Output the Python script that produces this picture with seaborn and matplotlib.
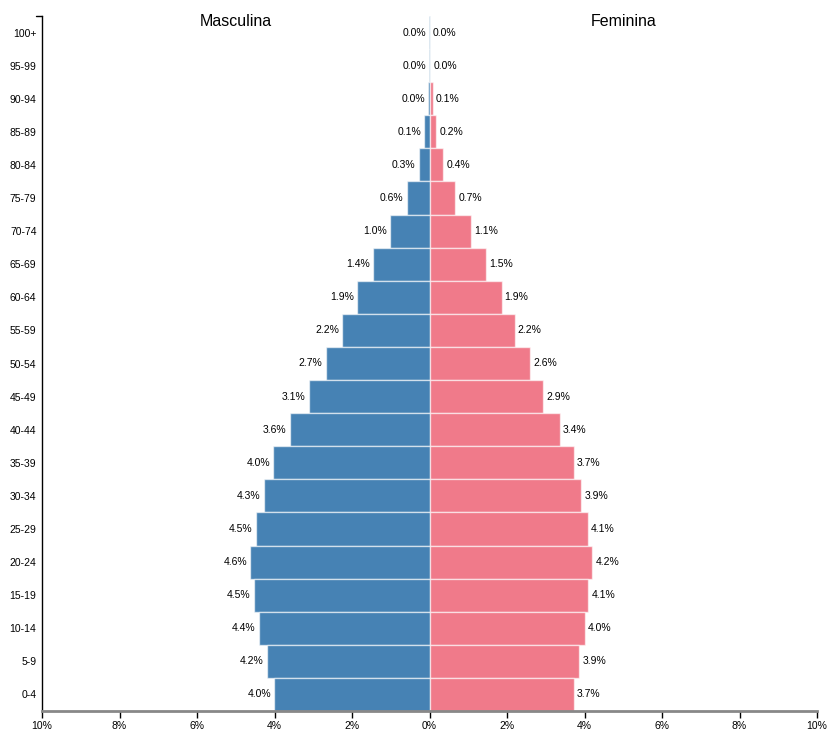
"""
Population pyramid (Masculina / Feminina) drawn with seaborn horizontal bars.
"""

import matplotlib.pyplot as plt
import numpy as np
import pandas as pd
import seaborn as sns

# -----------------------------------------------------------------------------
# Data (percent of total population), oldest group first so it sits on top
# -----------------------------------------------------------------------------
AGE_GROUPS = [
    "100+", "95-99", "90-94", "85-89", "80-84", "75-79", "70-74", "65-69",
    "60-64", "55-59", "50-54", "45-49", "40-44", "35-39", "30-34", "25-29",
    "20-24", "15-19", "10-14", "5-9", "0-4",
]
MALE = [
    0.002, 0.01, 0.04, 0.13, 0.28, 0.59, 1.03, 1.45,
    1.86, 2.25, 2.68, 3.12, 3.61, 4.03, 4.28, 4.49,
    4.63, 4.54, 4.41, 4.20, 4.01,
]
FEMALE = [
    0.004, 0.02, 0.08, 0.18, 0.36, 0.66, 1.08, 1.47,
    1.86, 2.20, 2.59, 2.93, 3.36, 3.72, 3.92, 4.08,
    4.20, 4.10, 4.01, 3.86, 3.72,
]
X_TICKS = [-10, -8, -6, -4, -2, 0, 2, 4, 6, 8, 10]

MALE_COLOR = "#4682B4"
FEMALE_COLOR = "#F07A8A"


def main() -> None:
    sns.set_style("white")
    plt.rcParams["font.family"] = ["Liberation Sans", "DejaVu Sans"]
    plt.rcParams["text.color"] = "black"
    plt.rcParams["xtick.color"] = "black"
    plt.rcParams["ytick.color"] = "black"

    df = pd.DataFrame({"age": AGE_GROUPS, "male": MALE, "female": FEMALE})
    df["male_neg"] = -df["male"]

    fig = plt.figure(figsize=(8.3, 7.39), dpi=100)
    ax = fig.add_axes([42 / 830, 28 / 739, 775 / 830, 695 / 739])

    edge = (1, 1, 1, 0.6)
    sns.barplot(data=df, x="male_neg", y="age", order=AGE_GROUPS, orient="h",
                color=MALE_COLOR, saturation=1, width=1.0, edgecolor=edge,
                linewidth=1, ax=ax)
    sns.barplot(data=df, x="female", y="age", order=AGE_GROUPS, orient="h",
                color=FEMALE_COLOR, saturation=1, width=1.0, edgecolor=edge,
                linewidth=1, ax=ax)

    # value labels at the bar ends
    for i, (m, f) in enumerate(zip(MALE, FEMALE)):
        ax.text(-m - 0.08, i, f"{m:.1f}%", ha="right", va="center", fontsize=7.5)
        ax.text(f + 0.08, i, f"{f:.1f}%", ha="left", va="center", fontsize=7.5)

    ax.set_xlim(-10, 10)
    ax.set_ylim(len(AGE_GROUPS) - 0.5, -0.5)
    ax.set_xticks(X_TICKS)
    ax.set_xticklabels([f"{abs(t)}%" for t in X_TICKS], fontsize=7.5)
    ax.set_xlabel("")
    ax.set_ylabel("")
    ax.tick_params(axis="y", length=0, labelsize=7.5, pad=4)
    ax.tick_params(axis="x", length=5, width=1, color="black", labelsize=7.5,
                   direction="out", bottom=True, pad=2)

    for side in ("top", "right"):
        ax.spines[side].set_visible(False)
    ax.spines["left"].set_color("black")
    ax.spines["left"].set_linewidth(1)
    ax.spines["bottom"].set_color("#888888")
    ax.spines["bottom"].set_linewidth(2)

    # small outer tick at the top of the left axis
    ax.plot([-10.15, -10], [-0.5, -0.5], color="black", lw=1, clip_on=False)

    ax.text(-5, -0.32, "Masculina", ha="center", va="center", fontsize=11.5)
    ax.text(5, -0.32, "Feminina", ha="center", va="center", fontsize=11.5)

    fig.savefig("out.png", dpi=100)
    plt.close(fig)


if __name__ == "__main__":
    main()
